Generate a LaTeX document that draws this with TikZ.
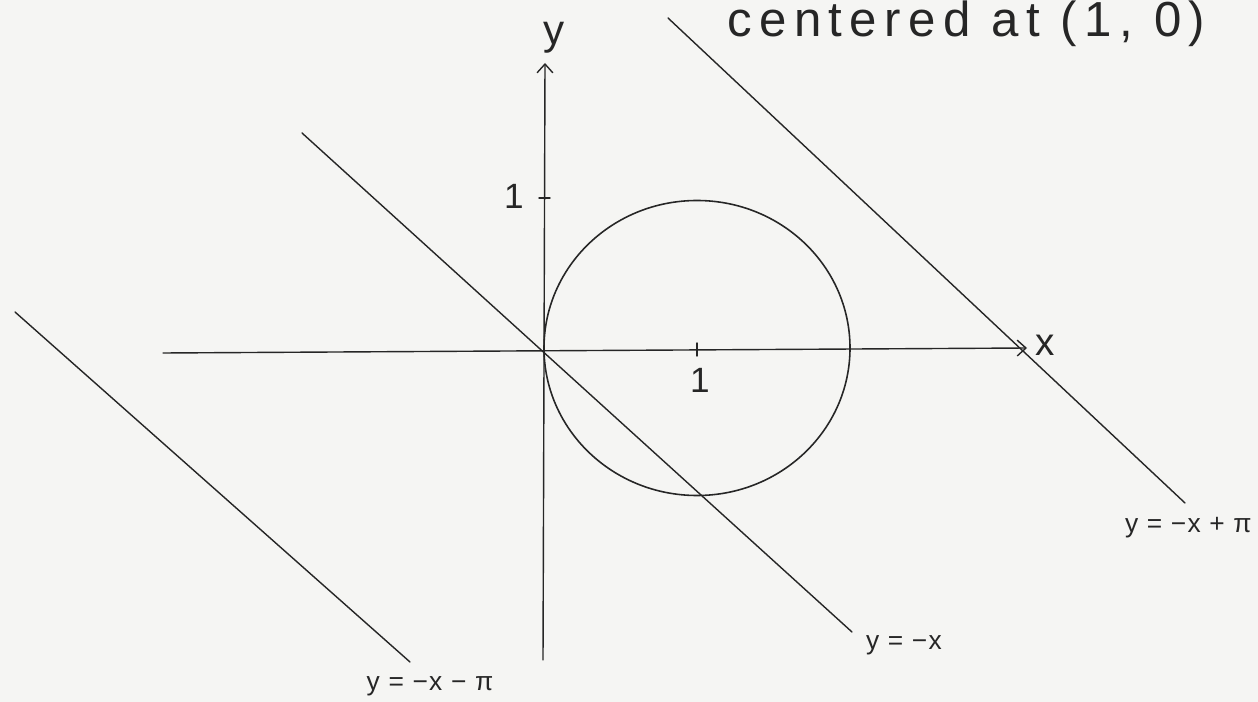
\documentclass[tikz,border=0pt]{standalone}
\usepackage{fontspec}
\setmainfont{Liberation Sans}
\usetikzlibrary{arrows.meta}
\definecolor{paper}{HTML}{F5F5F3}
\definecolor{ink}{HTML}{262626}
\begin{document}
\begin{tikzpicture}[x=0.02cm,y=-0.02cm,
  pen/.style={draw=ink,line width=0.8pt,line cap=round},
  lbl/.style={text=ink,inner sep=0pt,font=\fontsize{15}{17}\selectfont\addfontfeature{LetterSpace=5}},
  biglbl/.style={text=ink,inner sep=0pt,font=\fontsize{28}{32}\selectfont\addfontfeature{LetterSpace=15}}]
\fill[paper] (0,0) rectangle (1258,702);
\useasboundingbox (0,0) rectangle (1258,702);
% axes
\coordinate (xs) at (163,353);
\coordinate (xe) at (1027,348);
\coordinate (ys) at (543,660);
\coordinate (ye) at (545,63);
\draw[pen,-{Straight Barb[length=5pt,width=9pt]}] (xs) -- (xe);
\draw[pen,-{Straight Barb[length=5pt,width=9pt]}] (ys) -- (ye);
% ticks
\coordinate (tx1) at (697,343);
\coordinate (tx2) at (697,356);
\coordinate (ty1) at (539,198);
\coordinate (ty2) at (550,198);
\draw[pen] (tx1) -- (tx2);
\draw[pen] (ty1) -- (ty2);
% circle
\coordinate (c) at (697,348);
\draw[pen,line width=0.9pt] (c) ellipse [x radius=153, y radius=147.5];
% lines
\coordinate (a1) at (302,133);
\coordinate (a2) at (852,632);
\coordinate (b1) at (668,18);
\coordinate (b2) at (1185,503);
\coordinate (d1) at (15,312);
\coordinate (d2) at (410,662);
\draw[pen] (a1) -- (a2);
\draw[pen] (b1) -- (b2);
\draw[pen] (d1) -- (d2);
% labels
\node[lbl,font=\fontsize{22}{24}\selectfont] (xl) at (1045,345) {x};
\node[lbl,font=\fontsize{24}{26}\selectfont] (yl) at (554,38) {y};
\node[lbl,font=\fontsize{20}{22}\selectfont] (one1) at (700,380) {1};
\node[lbl,font=\fontsize{20}{22}\selectfont] (one2) at (514,196) {1};
\node[lbl,anchor=east] (l1) at (1252,528) {y = −x + π};
\node[lbl] (l2) at (904,645) {y = −x};
\node[lbl] (l3) at (430,686) {y = −x − π};
\node[biglbl,anchor=west] (title) at (727,24) {centered at (1, 0)};
\end{tikzpicture}
\end{document}
